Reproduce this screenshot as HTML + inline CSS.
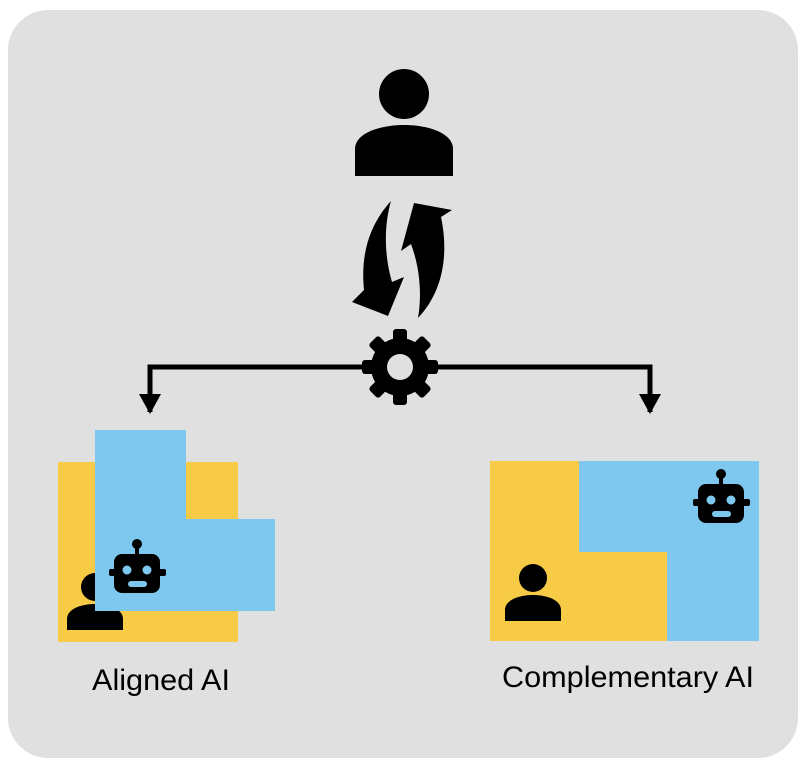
<!DOCTYPE html>
<html><head><style>
html,body{margin:0;padding:0;background:#fff;width:808px;height:768px;overflow:hidden}
svg{display:block}
text{font-family:"Liberation Sans",Arial,sans-serif}
</style></head><body>
<svg width="808" height="768" viewBox="0 0 808 768" xmlns="http://www.w3.org/2000/svg">
<defs>
<g id="robot">
  <circle cx="28" cy="5" r="5" fill="#000"/>
  <rect x="26" y="5" width="4" height="12" fill="#000"/>
  <rect x="5" y="15" width="46" height="39" rx="8" fill="#000"/>
  <rect x="0" y="30" width="57" height="7" rx="2" fill="#000"/>
  <circle cx="18" cy="31" r="4.5" fill="#7EC8EF"/>
  <circle cx="38" cy="31" r="4.5" fill="#7EC8EF"/>
  <rect x="19" y="42" width="19" height="6" rx="3" fill="#7EC8EF"/>
</g>
<g id="person">
  <circle cx="28" cy="14" r="14" fill="#000"/>
  <path d="M0 57 V46 C0 36 14 31 28 31 C42 31 56 36 56 46 V57 Z" fill="#000"/>
</g>
</defs>
<rect x="8" y="10" width="790" height="748" rx="40" fill="#e0e0e0"/>

<circle cx="404" cy="94" r="25" fill="#000"/>
<path d="M355 176 V149 C355 133 380 125 404 125 C428 125 453 133 453 149 V176 Z" fill="#000"/>

<path d="M391 201 C372 222 360 250 364 290 L352 302 L388 316 L404 277 L392 282 C384 255 384 225 391 201 Z" fill="#000"/>
<path d="M418 318 C440 295 450 260 441 217 L452 210 L414 203 L401 251 L411 244 C420 268 422 295 418 318 Z" fill="#000"/>

<polyline points="150,412 150,367 650,367 650,412" fill="none" stroke="#000" stroke-width="5"/>
<polygon points="139,394 161,394 150,414" fill="#000"/>
<polygon points="639,394 661,394 650,414" fill="#000"/>

<g transform="translate(400,367)">
  <g fill="#000">
    <rect x="-7" y="-38" width="14" height="76" rx="3"/>
    <rect x="-7" y="-38" width="14" height="76" rx="3" transform="rotate(45)"/>
    <rect x="-7" y="-38" width="14" height="76" rx="3" transform="rotate(90)"/>
    <rect x="-7" y="-38" width="14" height="76" rx="3" transform="rotate(135)"/>
    <circle r="29"/>
  </g>
  <circle r="13" fill="#e0e0e0"/>
</g>

<rect x="58" y="462" width="180" height="180" fill="#F7CB45"/>
<use href="#person" transform="translate(67,573)"/>
<polygon points="95,430 186,430 186,519 275,519 275,611 95,611" fill="#7EC8EF"/>
<use href="#robot" transform="translate(109,539)"/>
<text x="92" y="690" font-size="30" textLength="138" lengthAdjust="spacingAndGlyphs" fill="#000">Aligned AI</text>

<rect x="490" y="461" width="177" height="180" fill="#F7CB45"/>
<polygon points="579,461 759,461 759,641 667,641 667,552 579,552" fill="#7EC8EF"/>
<use href="#robot" transform="translate(693,469)"/>
<use href="#person" transform="translate(505,564)"/>
<text x="502" y="687" font-size="30" textLength="252" lengthAdjust="spacingAndGlyphs" fill="#000">Complementary AI</text>
</svg>
</body></html>
